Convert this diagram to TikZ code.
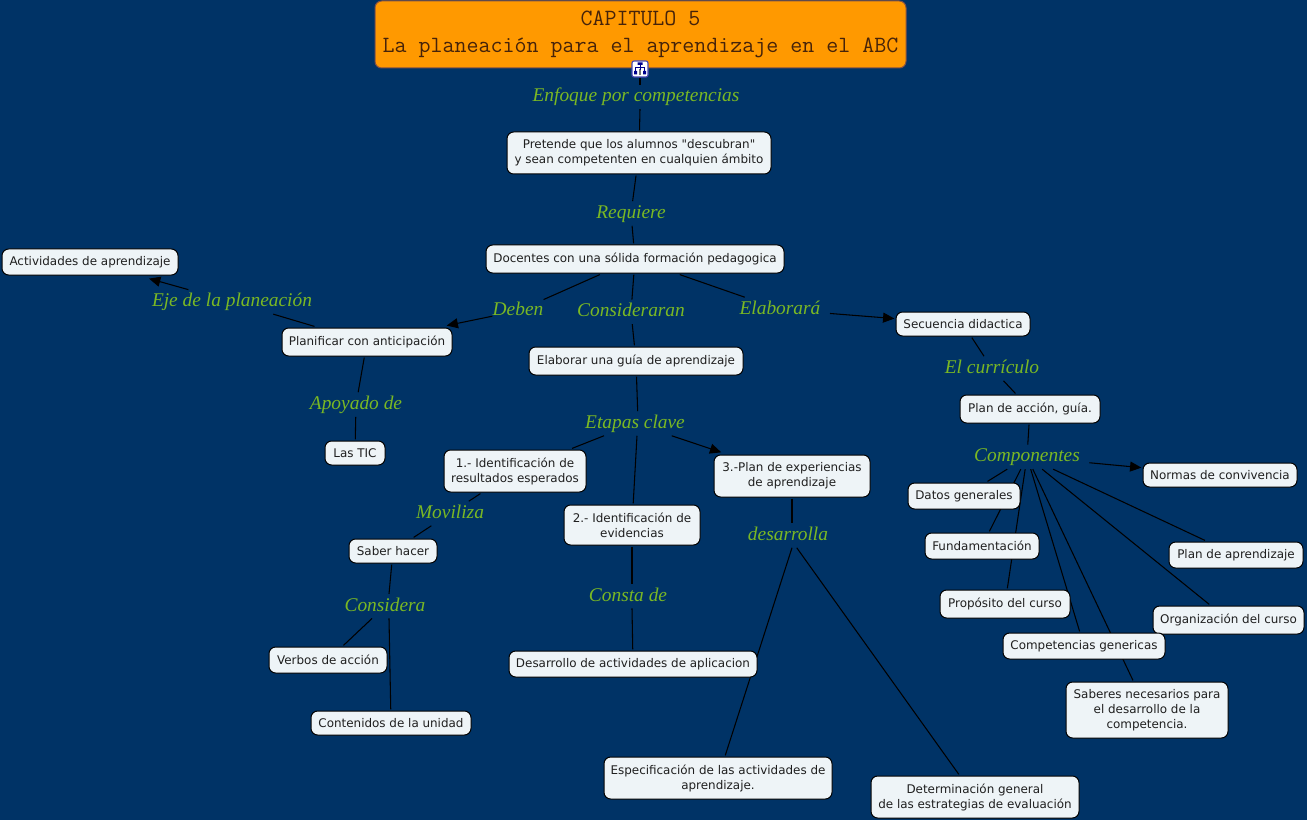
\documentclass[tikz,border=0pt]{standalone}
\usepackage{fontspec}
\setmainfont{DejaVu Sans}
\newfontfamily\boxfont{DejaVu Sans}
\newfontfamily\lblfont{Liberation Serif}
\setmonofont{Latin Modern Mono}
\usetikzlibrary{arrows.meta,backgrounds}
\definecolor{bgblue}{RGB}{0,51,102}
\definecolor{boxfill}{RGB}{238,244,247}
\definecolor{lblgreen}{RGB}{122,184,36}
\definecolor{ttlfill}{RGB}{255,153,0}
\definecolor{ttlborder}{RGB}{130,80,70}
\definecolor{ttltext}{RGB}{70,35,10}
\tikzset{
 sz/.style 2 args={minimum width=#1*0.75pt,minimum height=#2*0.75pt},
 boxn/.style={draw=black,line width=0.75pt,fill=boxfill,rounded corners=5pt,inner sep=0pt,outer sep=1.2pt,align=center,
   font=\boxfont\fontsize{8.95pt}{11.25pt}\selectfont,text=black!88},
 lbl/.style={inner sep=0pt,text height=12.6pt,text depth=5.4pt,text=lblgreen,
   font=\lblfont\itshape\fontsize{14.55pt}{18pt}\selectfont},
 ttl/.style={draw=ttlborder,line width=0.75pt,fill=ttlfill,rounded corners=5pt,inner sep=0pt,align=center,text=ttltext,
   font=\ttfamily\fontsize{17.47pt}{20.8pt}\selectfont},
 conn/.style={draw=black,line width=0.8pt},
 arr/.style={conn,-{Triangle[length=8.5pt,width=7.5pt]}},
}
\begin{document}
\begin{tikzpicture}[x=0.75pt,y=-0.75pt]
\useasboundingbox (0,0) rectangle (1307,820);
% title and icon
\node[ttl,sz={531}{67}] (title) at (640.5,34.5) {CAPITULO 5\\La planeación para el aprendizaje en el ABC};
\node[draw=blue!60!white!70!black,line width=0.8pt,fill=white,rounded corners=1.5pt,inner sep=0pt,sz={16}{16}] (icon) at (640,69) {};
\fill[blue!55!black] (637.5,62.5) rectangle (642.5,65) (634,71) rectangle (637,74.5) (643,71) rectangle (646,74.5);
\fill[black!55] (638.7,69.5) rectangle (641.3,75);
\draw[blue!55!black,line width=0.45pt] (640,65) -- (640,70) (635.5,71) -- (635.5,67.5) -- (644.5,67.5) -- (644.5,71);
% concept nodes
\node[boxn,sz={264}{42}] (pretende) at (639,153) {Pretende que los alumnos "descubran"\\y sean competenten en cualquien ámbito};
\node[boxn,sz={298}{28}] (docentes) at (635,259) {Docentes con una sólida formación pedagogica};
\node[boxn,sz={176}{26}] (activ) at (90,262) {Actividades de aprendizaje};
\node[boxn,sz={170}{28}] (planif) at (367,342) {Planificar con anticipación};
\node[boxn,sz={214}{28}] (guia) at (636,361) {Elaborar una guía de aprendizaje};
\node[boxn,sz={134}{24}] (secuencia) at (963,324) {Secuencia didactica};
\node[boxn,sz={140}{28}] (planacc) at (1030,409) {Plan de acción, guía.};
\node[boxn,sz={60}{24}] (tic) at (355,453) {Las TIC};
\node[boxn,sz={142}{42}] (uno) at (515,471) {1.- Identificación de\\resultados esperados};
\node[boxn,sz={156}{42}] (tres) at (792,476) {3.-Plan de experiencias\\de aprendizaje};
\node[boxn,sz={136}{40}] (dos) at (632,525) {2.- Identificación de\\evidencias};
\node[boxn,sz={88}{24}] (saber) at (393,551) {Saber hacer};
\node[boxn,sz={118}{26}] (verbos) at (328,660) {Verbos de acción};
\node[boxn,sz={160}{24}] (conten) at (391,723) {Contenidos de la unidad};
\node[boxn,sz={248}{26}] (desarr) at (633,664) {Desarrollo de actividades de aplicacion};
\node[boxn,sz={228}{42}] (espec) at (718,778) {Especificación de las actividades de\\aprendizaje.};
\node[boxn,sz={208}{42}] (deter) at (975,797) {Determinación general\\de las estrategias de evaluación};
\node[boxn,sz={154}{24}] (normas) at (1220,475) {Normas de convivencia};
\node[boxn,sz={112}{26}] (datos) at (964,496) {Datos generales};
\node[boxn,sz={114}{26}] (fund) at (982,546) {Fundamentación};
\node[boxn,sz={134}{26}] (planap) at (1236,555) {Plan de aprendizaje};
\node[boxn,sz={130}{28}] (prop) at (1005,604) {Propósito del curso};
\node[boxn,sz={151}{28}] (organ) at (1228.5,620) {Organización del curso};
\node[boxn,sz={162}{26}] (compet) at (1084,646) {Competencias genericas};
\node[boxn,sz={162}{56}] (saberes) at (1147,710) {Saberes necesarios para\\el desarrollo de la\\competencia.};
% linking phrases
\node[lbl] (enfoque) at (636,96.9) {Enfoque por competencias};
\node[lbl] (requiere) at (631,213.5) {Requiere};
\node[lbl] (deben) at (518,310.9) {Deben};
\node[lbl] (consid) at (631,311.9) {Consideraran};
\node[lbl] (elabora) at (780,309.5) {Elaborará};
\node[lbl] (eje) at (232,301.9) {Eje de la planeación};
\node[lbl] (apoyado) at (356,404.5) {Apoyado de};
\node[lbl] (curric) at (992,368.5) {El currículo};
\node[lbl] (etapas) at (635,423.5) {Etapas clave};
\node[lbl] (compon) at (1027,456.9) {Componentes};
\node[lbl] (moviliza) at (450,513.5) {Moviliza};
\node[lbl] (consta) at (628,596.2) {Consta de};
\node[lbl] (desarrolla) at (788,535.5) {desarrolla};
\node[lbl] (considera) at (385,606.2) {Considera};
% connectors behind everything
\begin{pgfonlayer}{background}
\fill[bgblue] (0,0) rectangle (1307,820);
\draw[conn] (icon) -- ([xshift=3pt]enfoque.north);
\draw[conn] ([xshift=3pt]enfoque.south) -- (pretende);
\draw[conn] (pretende) -- (requiere);
\draw[conn] (requiere) -- (docentes);
\draw[conn] (docentes) -- (deben);
\draw[arr,shorten >=3pt] (deben) -- (planif);
\draw[conn] (docentes) -- (consid);
\draw[conn] (consid) -- (guia);
\draw[conn] (docentes) -- (elabora);
\draw[arr,shorten <=7pt] (elabora) -- (secuencia);
\draw[conn] (planif) -- (eje);
\draw[arr,shorten >=5.5pt] (eje) -- (activ);
\draw[conn] (planif) -- (apoyado);
\draw[conn] (apoyado) -- (tic);
\draw[conn] (guia) -- ([xshift=2pt]etapas.north);
\draw[conn] (etapas) -- (uno);
\draw[conn] ([xshift=1.5pt]etapas.south) -- (dos);
\draw[arr,shorten >=2.5pt] (etapas) -- (tres);
\draw[conn] (uno) -- (moviliza);
\draw[conn] (moviliza) -- (saber);
\draw[conn] (saber) -- ([xshift=3pt]considera.north);
\draw[conn] (considera) -- (verbos);
\draw[conn] ([xshift=3pt]considera.south) -- (conten);
\draw[conn] (dos) -- ([xshift=3pt]consta.north);
\draw[conn] ([xshift=3pt]consta.south) -- (desarr);
\draw[conn] (tres) -- ([xshift=3pt]desarrolla.north);
\draw[conn] ([xshift=3pt]desarrolla.south) -- (espec);
\draw[conn] (desarrolla) -- (deter);
\draw[conn] (secuencia) -- (curric);
\draw[conn] (curric) -- (planacc);
\draw[conn] (planacc) -- (compon);
\draw[arr,shorten <=7pt] (compon) -- (normas);
\draw[conn] (compon) -- (datos);
\draw[conn] (compon) -- (fund);
\draw[conn] (compon) -- (prop);
\draw[conn] (compon) -- (compet);
\draw[conn] (compon) -- (saberes);
\draw[conn] (compon) -- (organ);
\draw[conn] (compon) -- (planap);
\end{pgfonlayer}
\end{tikzpicture}
\end{document}
